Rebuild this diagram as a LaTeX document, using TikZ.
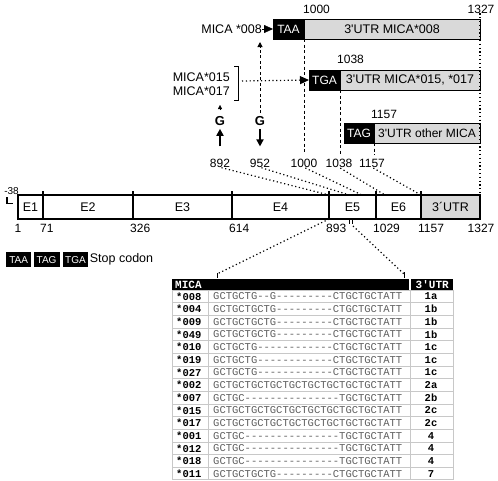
\documentclass[tikz,border=0pt]{standalone}
\usepackage{fontspec}
\setmainfont{Liberation Sans}
\setmonofont{Liberation Mono}
\usepackage{tikz}
\usetikzlibrary{arrows.meta,positioning,calc}
\definecolor{utrGray}{RGB}{217,217,217}
\definecolor{seqGray}{RGB}{95,95,95}
\definecolor{gridGray}{RGB}{200,200,200}

\tikzset{
  lbl/.style={font=\fontsize{12.5}{14}\selectfont, inner sep=0pt},
  numlbl/.style={font=\fontsize{12}{14}\selectfont, inner sep=0pt},
  stopbox/.style={draw, fill=black, text=white, inner sep=0pt, outer sep=0pt,
    minimum height=20pt, anchor=north west, font=\fontsize{12}{14}\selectfont},
  utrbox/.style={draw, fill=utrGray, inner sep=0pt, outer sep=0pt,
    minimum height=20pt, anchor=north west, font=\fontsize{12.5}{14}\selectfont},
  exon/.style={draw, line width=1.2pt, minimum height=24pt, inner sep=0pt,
    outer sep=0pt, anchor=west, font=\fontsize{12.5}{14}\selectfont},
  bound/.style={line width=1.8pt},
  dashline/.style={line width=1pt, dash pattern=on 3pt off 2.5pt},
  dotline/.style={line width=1.2pt, dash pattern=on 1.2pt off 2.6pt},
  garrow/.style={line width=2.2pt, -{Triangle[length=7pt,width=7pt]}},
  legbox/.style={fill=black, text=white, inner sep=0pt, anchor=north west,
    minimum height=15pt, font=\fontsize{10}{12}\selectfont},
  hdcell/.style={fill=black, text=white, inner sep=0pt, anchor=north west,
    minimum height=11pt, font=\ttfamily\bfseries\fontsize{11}{11}\selectfont},
  nametxt/.style={anchor=west, inner sep=0pt, font=\ttfamily\bfseries\fontsize{10.5}{12}\selectfont},
  seqtxt/.style={anchor=west, inner sep=0pt, text=seqGray, font=\ttfamily\fontsize{10.5}{12}\selectfont},
  utrtxt/.style={inner sep=0pt, font=\ttfamily\bfseries\fontsize{10.5}{12}\selectfont},
  gridline/.style={gridGray, line width=0.8pt}
}

\begin{document}
\begin{tikzpicture}[x=1pt,y=-1pt]
  \useasboundingbox (0,0) rectangle (498,480);

  % Stop codon boxes with their 3'UTR
  \node[stopbox, minimum width=31pt] (taa) at (273,19) {TAA};
  \node[utrbox, minimum width=176pt] (utr008) at (taa.north east) {3\textquotesingle UTR MICA*008};
  \node[stopbox, minimum width=31pt] (tga) at (309,70) {TGA};
  \node[utrbox, minimum width=140pt] (utr015) at (tga.north east) {3\textquotesingle UTR MICA*015, *017};
  \node[stopbox, minimum width=30pt] (tag) at (344,123) {TAG};
  \node[utrbox, minimum width=106pt, font=\fontsize{12}{14}\selectfont] (utroth) at (tag.north east) {3\textquotesingle UTR other MICA};

  % Positions over the boxes
  \node[numlbl, anchor=base west] (p1000t) at (303,13) {1000};
  \node[numlbl, anchor=base] (p1327t) at (481,13) {1327};
  \node[numlbl, anchor=base west] (p1038t) at (337,63) {1038};
  \node[numlbl, anchor=base west] (p1157t) at (371,118) {1157};

  % Alleles
  \node[lbl, anchor=east] (m008) at (262,29) {MICA *008};
  \draw[-{Triangle[length=9pt,width=8pt]}] (m008) -- (taa);
  \node[lbl, align=right, anchor=east] (mica1517) at (230,84) {MICA*015\\MICA*017};
  \draw[line width=1pt] (234,66) -- (238,66) -- (238,100) -- (234,100);
  \coordinate (brk) at (242,81);
  \draw[dotline, -{Triangle[length=9pt,width=8pt]}] (brk) -- (tga.west);

  % Positions on the row below
  \node[numlbl, anchor=base] (p892b) at (220,167) {892};
  \node[numlbl, anchor=base] (p952b) at (260,167) {952};
  \node[numlbl, anchor=base] (p1000b) at (304,167) {1000};
  \node[numlbl, anchor=base] (p1038b) at (339,167) {1038};
  \node[numlbl, anchor=base] (p1157b) at (372,167) {1157};

  % Dashed drops from the stop codons
  \draw[dashline, shorten >=4pt] (taa.south east) -- (taa.south east |- p1000b.north);
  \draw[dashline, shorten >=4pt] (tga.south east) -- (tga.south east |- p1038b.north);
  \draw[dashline, shorten >=4pt] (tag.south east) -- (tag.south east |- p1157b.north);

  % G insertions
  \node[lbl, font=\bfseries\fontsize{13}{14}\selectfont] (g892) at (220,121) {G};
  \node[lbl, font=\bfseries\fontsize{13}{14}\selectfont] (g952) at (260,121) {G};
  \draw[garrow, shorten <=12pt, shorten >=3pt] (p892b.north) -- (g892.south);
  \draw[garrow, shorten <=3pt, shorten >=12pt] (g952.south) -- (p952b.north);
  \coordinate (tip892) at (220,105);
  \draw[-{Triangle[length=4pt,width=4pt]}, shorten <=6pt] (g892.north) -- (tip892);
  \coordinate (m008foot) at (260,42);
  \draw[dashline, -{Triangle[length=5pt,width=5pt]}, shorten <=3pt] (g952.north) -- (m008foot);

  % Gene
  \node[exon, minimum width=25pt] (e1) at (18,207) {E1};
  \node[exon, minimum width=90pt] (e2) at (e1.east) {E2};
  \node[exon, minimum width=99pt] (e3) at (e2.east) {E3};
  \node[exon, minimum width=97pt] (e4) at (e3.east) {E4};
  \node[exon, minimum width=47pt] (e5) at (e4.east) {E5};
  \node[exon, minimum width=45pt] (e6) at (e5.east) {E6};
  \node[exon, minimum width=59pt, fill=utrGray] (utr) at (e6.east) {3´UTR};
  \foreach \ex in {e1,e2,e3,e4,e5,e6}
    \draw[bound] (\ex.north east) ++(0,-4) -- (\ex.south east);
  \node[numlbl, anchor=base] (n1) at (18,232) {1};
  \foreach \ex/\val in {e1/71, e2/326, e3/614, e4/893, e5/1029, e6/1157}
    \node[numlbl, anchor=base west] (n\val) at ($(\ex.south east)+(-3,13)$) {\val};
  \node[numlbl, anchor=base] (n1327) at ($(utr.south east)+(1,13)$) {1327};
  \node[inner sep=0pt, anchor=base, font=\fontsize{10}{12}\selectfont] (m38) at (11.5,194) {-38};
  \draw[line width=1.3pt] (7,197) -- (7,203.5) -- (13,203.5);
  \draw[line width=1pt] (349,219) -- (349,224) (352,219) -- (352,224);
  \coordinate (cut) at (353,226);

  % Dotted mapping onto the gene
  \coordinate (g892pos) at (e5.north west);
  \coordinate (g952pos) at ($(e5.north west)!0.43!(e5.north east)$);
  \coordinate (g1000pos) at ($(e5.north west)!0.70!(e5.north east)$);
  \coordinate (g1038pos) at ($(e6.north west)!0.20!(e6.north east)$);
  \coordinate (g1157pos) at (e6.north east);
  \foreach \p in {892,952,1000,1038,1157}
    \draw[dotline, shorten <=1.5pt] (p\p b.south) -- (g\p pos);
  \draw[dotline] (utr.north east |- p1327t.south) -- (utr.north east);

  % Legend
  \node[legbox, minimum width=25pt] (legtaa) at (6,252) {TAA};
  \node[legbox, minimum width=26pt, right=2pt of legtaa] (legtag) {TAG};
  \node[legbox, minimum width=25pt, right=3pt of legtag] (legtga) {TGA};
  \node[lbl, right=1.5pt of legtga] (legtxt) {Stop codon};

  % Zoom onto the table
  \coordinate (tblL) at (217,274);
  \coordinate (tblR) at (404,274);
  \draw[dotline] (e5.south west) -- (tblL);
  \draw[dotline] (cut) -- (tblR);
  \draw[line width=1pt] (217,273) -- (217,278) (404,272) -- (404,278);

  % Table
  \node[hdcell, minimum width=237pt] (hdseq) at (172,279) {};
  \node[hdcell, anchor=west] (hdmica) at ($(hdseq.west)+(3,0)$) {MICA};
  \node[hdcell, minimum width=42pt] (hdutr) at (411,279) {3\textquotesingle UTR};
  \draw[gridline] (172,290) rectangle (453,479.6);
  \draw[gridline] (208,290) -- (208,479.6) (410,290) -- (410,479.6);
  \foreach \k in {1,...,14}
    \draw[gridline] (172,{290+12.67*\k}) -- (453,{290+12.67*\k});
  \foreach \nm/\sq/\ut [count=\i from 0] in {
      008/GCTGCTG--G---------CTGCTGCTATT/1a,
      004/GCTGCTGCTG---------CTGCTGCTATT/1b,
      009/GCTGCTGCTG---------CTGCTGCTATT/1b,
      049/GCTGCTGCTG---------CTGCTGCTATT/1b,
      010/GCTGCTG------------CTGCTGCTATT/1c,
      019/GCTGCTG------------CTGCTGCTATT/1c,
      027/GCTGCTG------------CTGCTGCTATT/1c,
      002/GCTGCTGCTGCTGCTGCTGCTGCTGCTATT/2a,
      007/GCTGC---------------TGCTGCTATT/2b,
      015/GCTGCTGCTGCTGCTGCTGCTGCTGCTATT/2c,
      017/GCTGCTGCTGCTGCTGCTGCTGCTGCTATT/2c,
      001/GCTGC---------------TGCTGCTATT/4,
      012/GCTGC---------------TGCTGCTATT/4,
      018/GCTGC---------------TGCTGCTATT/4,
      011/GCTGCTGCTG---------CTGCTGCTATT/7} {
    \node[nametxt] (r\nm) at (176,{296.3+12.67*\i}) {*\nm};
    \node[seqtxt] (s\nm) at (213,{296.3+12.67*\i}) {\sq};
    \node[utrtxt] (u\nm) at (431,{296.3+12.67*\i}) {\ut};
  }
\end{tikzpicture}
\end{document}
